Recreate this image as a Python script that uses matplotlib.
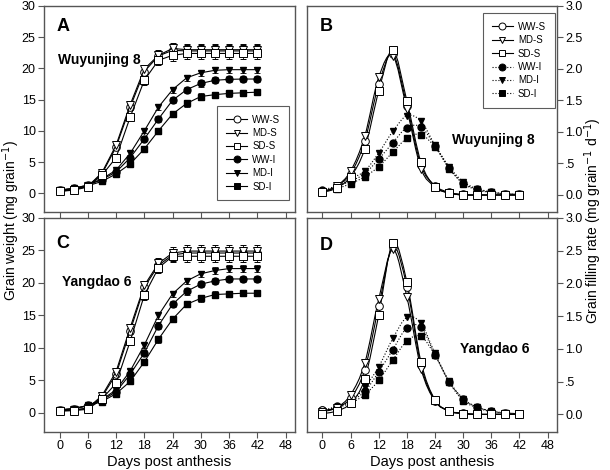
import numpy as np
import matplotlib
matplotlib.use('Agg')
import matplotlib.pyplot as plt
from matplotlib.path import Path
from matplotlib.patches import PathPatch
from matplotlib.lines import Line2D

plt.rcParams['font.family'] = ['Liberation Sans', 'DejaVu Sans']

days = [0, 3, 6, 9, 12, 15, 18, 21, 24, 27, 30, 33, 36, 39, 42]
treatments = ['WW', 'MD', 'SD']
markers = {'WW': 'o', 'MD': 'v', 'SD': 's'}
x_ticks = [0, 6, 12, 18, 24, 30, 36, 42, 48]
w_ticks = [0, 5, 10, 15, 20, 25, 30]
r_ticks = [0.0, 0.5, 1.0, 1.5, 2.0, 2.5, 3.0]
r_tick_labels = ['0.0', '.5', '1.0', '1.5', '2.0', '2.5', '3.0']

# grain weight, Wuyunjing 8 (panel A)
wA = {
    'WW-S': [0.4, 0.6, 1.1, 3.1, 7.4, 13.8, 19.5, 22.0, 22.9, 22.8, 22.8, 22.8, 22.8, 22.8, 22.8],
    'MD-S': [0.3, 0.6, 1.1, 3.3, 7.7, 14.2, 19.9, 22.1, 23.2, 23.0, 23.0, 23.0, 23.0, 23.0, 23.0],
    'SD-S': [0.3, 0.5, 1.0, 2.9, 5.7, 12.2, 18.1, 21.3, 22.1, 22.4, 22.4, 22.4, 22.4, 22.4, 22.4],
    'WW-I': [0.5, 0.8, 1.3, 2.2, 3.4, 5.7, 8.7, 11.9, 14.9, 16.6, 17.6, 18.1, 18.25, 18.3, 18.3],
    'MD-I': [0.5, 0.8, 1.3, 2.3, 3.7, 6.4, 10.0, 13.8, 16.6, 18.5, 19.3, 19.7, 19.8, 19.8, 19.8],
    'SD-I': [0.5, 0.7, 1.2, 1.9, 3.1, 4.7, 7.1, 10.0, 12.7, 14.4, 15.5, 15.8, 16.0, 16.1, 16.2],
}
# grain weight, Yangdao 6 (panel C)
wC = {
    'WW-S': [0.3, 0.4, 0.6, 2.4, 5.9, 12.6, 19.3, 22.7, 24.3, 24.6, 24.6, 24.6, 24.6, 24.6, 24.6],
    'MD-S': [0.3, 0.4, 0.7, 2.6, 6.3, 13.1, 19.6, 23.0, 24.6, 24.9, 24.9, 24.9, 24.9, 24.9, 24.9],
    'SD-S': [0.2, 0.3, 0.5, 2.1, 4.5, 11.0, 18.1, 22.3, 24.1, 24.1, 24.1, 24.1, 24.1, 24.1, 24.1],
    'WW-I': [0.4, 0.6, 1.1, 1.9, 3.2, 5.9, 9.2, 13.4, 16.7, 18.7, 19.8, 20.3, 20.6, 20.6, 20.6],
    'MD-I': [0.4, 0.6, 1.1, 2.0, 3.5, 6.4, 10.4, 15.0, 18.3, 20.3, 21.4, 21.9, 22.2, 22.2, 22.2],
    'SD-I': [0.4, 0.6, 1.0, 1.7, 2.9, 4.8, 7.8, 11.3, 14.4, 16.7, 17.6, 18.2, 18.3, 18.4, 18.4],
}
err_S = [0.1, 0.1, 0.1, 0.2, 0.3, 0.5, 0.7, 0.8, 0.9, 0.9, 0.9, 0.9, 0.9, 0.9, 0.9]
err_I = [0.1, 0.1, 0.1, 0.1, 0.2, 0.3, 0.4, 0.5, 0.5, 0.5, 0.5, 0.5, 0.5, 0.5, 0.5]

# grain filling rate, Wuyunjing 8 (panel B)
rB = {
    'WW-S': [0.05, 0.14, 0.34, 0.85, 1.76, 2.24, 1.42, 0.47, 0.15, 0.04, 0.01, 0.0, 0.0, 0.0, 0.0],
    'MD-S': [0.05, 0.14, 0.38, 0.93, 1.87, 2.21, 1.36, 0.42, 0.13, 0.03, 0.0, 0.0, 0.0, 0.0, 0.0],
    'SD-S': [0.04, 0.11, 0.29, 0.73, 1.65, 2.30, 1.49, 0.52, 0.13, 0.03, 0.0, 0.0, 0.0, 0.0, 0.0],
    'WW-I': [0.08, 0.14, 0.22, 0.34, 0.57, 0.83, 1.07, 1.08, 0.78, 0.43, 0.19, 0.09, 0.04, 0.02, 0.01],
    'MD-I': [0.06, 0.13, 0.26, 0.38, 0.67, 1.01, 1.26, 1.17, 0.79, 0.45, 0.21, 0.10, 0.05, 0.02, 0.01],
    'SD-I': [0.05, 0.10, 0.18, 0.29, 0.45, 0.68, 0.90, 0.96, 0.76, 0.42, 0.18, 0.08, 0.04, 0.02, 0.01],
}
# grain filling rate, Yangdao 6 (panel D)
rD = {
    'WW-S': [0.06, 0.10, 0.25, 0.68, 1.65, 2.56, 1.95, 0.75, 0.21, 0.05, 0.02, 0.0, 0.0, 0.0, 0.0],
    'MD-S': [0.04, 0.10, 0.30, 0.78, 1.76, 2.52, 1.79, 0.70, 0.20, 0.05, 0.01, 0.0, 0.0, 0.0, 0.0],
    'SD-S': [0.01, 0.05, 0.17, 0.54, 1.52, 2.62, 2.02, 0.80, 0.22, 0.05, 0.01, 0.0, 0.0, 0.0, 0.0],
    'WW-I': [0.06, 0.12, 0.20, 0.35, 0.65, 0.99, 1.32, 1.33, 0.91, 0.50, 0.23, 0.11, 0.05, 0.02, 0.01],
    'MD-I': [0.05, 0.11, 0.20, 0.41, 0.73, 1.16, 1.48, 1.39, 0.93, 0.51, 0.24, 0.11, 0.05, 0.02, 0.01],
    'SD-I': [0.04, 0.10, 0.17, 0.30, 0.52, 0.83, 1.12, 1.19, 0.90, 0.49, 0.21, 0.10, 0.04, 0.02, 0.01],
}

EDGE = '#555555'


def smooth_path(ax, xs, ys, ls):
    # Catmull-Rom through the measured points, drawn as bezier curves
    p = np.column_stack([xs, ys]).astype(float)
    pts = [p[0]]
    codes = [Path.MOVETO]
    n = len(p)
    for i in range(n - 1):
        p0 = p[max(i - 1, 0)]
        p1 = p[i]
        p2 = p[i + 1]
        p3 = p[min(i + 2, n - 1)]
        pts += [p1 + (p2 - p0) / 6.0, p2 - (p3 - p1) / 6.0, p2]
        codes += [Path.CURVE4] * 3
    ax.add_patch(PathPatch(Path(pts, codes), fill=False, lw=0.8,
                           ls=ls, ec='black', zorder=2))


def style_axes(ax, right=False, bottom=False, rate=False):
    for s in ax.spines.values():
        s.set_color(EDGE)
        s.set_linewidth(1.0)
    ax.set_xlim(-3.3, 50)
    ax.set_xticks(x_ticks)
    ax.tick_params(direction='out', length=4, width=0.8, color=EDGE,
                   labelsize=9, pad=2)
    if not bottom:
        ax.set_xticklabels([])
    if rate:
        ax.set_ylim(-0.27, 3.0)
        ax.set_yticks(r_ticks)
        ax.set_yticklabels(r_tick_labels)
    else:
        ax.set_ylim(-3, 30)
        ax.set_yticks(w_ticks)
    if right:
        ax.yaxis.tick_right()
    if bottom:
        ax.set_xlabel('Days post anthesis', fontsize=10.5, labelpad=2)


def weight_panel(ax, data):
    for t in treatments:
        ax.errorbar(days, data[t + '-I'], yerr=err_I, marker=markers[t],
                    ms=5, mfc='black', mec='black', color='black', lw=0.8,
                    elinewidth=0.6, capsize=2, capthick=0.6, zorder=3)
    for t in treatments:
        ax.errorbar(days, data[t + '-S'], yerr=err_S, marker=markers[t],
                    ms=5.5, mfc='white', mec='black', mew=0.7, color='black',
                    lw=0.8, elinewidth=0.6, capsize=2, capthick=0.6, zorder=4)


def rate_panel(ax, data):
    for t in treatments:
        smooth_path(ax, days, data[t + '-I'], ':')
        ax.plot(days, data[t + '-I'], ls='none', marker=markers[t], ms=5,
                mfc='black', mec='black', zorder=3)
    for t in treatments:
        smooth_path(ax, days, data[t + '-S'], '-')
        ax.plot(days, data[t + '-S'], ls='none', marker=markers[t], ms=5.5,
                mfc='white', mec='black', mew=0.7, zorder=4)


def add_legend(ax, dotted, loc):
    handles = []
    for grp in ['S', 'I']:
        for t in treatments:
            fill = 'white' if grp == 'S' else 'black'
            ls = ':' if (dotted and grp == 'I') else '-'
            handles.append(Line2D([], [], color='black', lw=0.8, ls=ls,
                                  marker=markers[t], ms=5, mfc=fill,
                                  mec='black', mew=0.7))
    labels = [t + '-' + g for g in ['S', 'I'] for t in treatments]
    leg = ax.legend(handles, labels, loc='upper left', bbox_to_anchor=loc,
                    fontsize=7, frameon=True, fancybox=False,
                    handlelength=2.2, handletextpad=0.5, labelspacing=0.35,
                    borderpad=0.9, borderaxespad=0)
    leg.get_frame().set_edgecolor('#333333')
    leg.get_frame().set_linewidth(0.8)


fig = plt.figure(figsize=(6.1, 4.7), dpi=100)
axA = fig.add_axes([44 / 610, 1 - 212 / 470, 251 / 610, 206 / 470])
axB = fig.add_axes([307 / 610, 1 - 212 / 470, 250 / 610, 206 / 470])
axC = fig.add_axes([44 / 610, 1 - 432 / 470, 251 / 610, 214 / 470])
axD = fig.add_axes([307 / 610, 1 - 432 / 470, 250 / 610, 214 / 470])

weight_panel(axA, wA)
weight_panel(axC, wC)
rate_panel(axB, rB)
rate_panel(axD, rD)

style_axes(axA)
style_axes(axC, bottom=True)
style_axes(axB, right=True, rate=True)
style_axes(axD, right=True, bottom=True, rate=True)

add_legend(axA, False, (0.69, 0.515))
add_legend(axB, True, (0.704, 0.966))

for ax, letter, ypos in [(axA, 'A', 0.9), (axB, 'B', 0.9),
                         (axC, 'C', 0.88), (axD, 'D', 0.87)]:
    ax.text(0.05, ypos, letter, transform=ax.transAxes, fontsize=13,
            fontweight='bold', va='center')

axA.text(0.055, 0.74, 'Wuyunjing 8', transform=axA.transAxes, fontsize=10,
         fontweight='bold', va='center')
axB.text(0.58, 0.35, 'Wuyunjing 8', transform=axB.transAxes, fontsize=10,
         fontweight='bold', va='center')
axC.text(0.07, 0.70, 'Yangdao 6', transform=axC.transAxes, fontsize=10,
         fontweight='bold', va='center')
axD.text(0.61, 0.39, 'Yangdao 6', transform=axD.transAxes, fontsize=10,
         fontweight='bold', va='center')

fig.text(0.019, 0.53, 'Grain weight (mg grain$^{-1}$)', rotation=90,
         fontsize=10, va='center', ha='center')
fig.text(0.973, 0.53, 'Grain filling rate (mg grain$^{-1}$ d$^{-1}$)',
         rotation=90, fontsize=10, va='center', ha='center')

fig.savefig('out.png', dpi=100)
